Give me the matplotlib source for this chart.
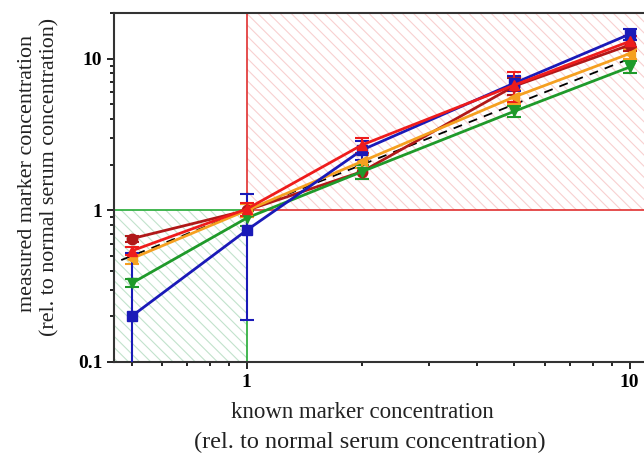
import matplotlib.pyplot as plt
from matplotlib.patches import Rectangle
from matplotlib.ticker import LogLocator, NullFormatter, FixedLocator, FixedFormatter

# --- data ---
known = [0.5, 1, 2, 5, 10]

blue_y = [0.2, 0.74, 2.5, 6.9, 14.5]
blue_err = [0.32, 0.55, 0.35, 0.8, 1.2]
red_y = [0.54, 1.02, 2.7, 6.7, 13.0]
red_err = [0.03, 0.1, 0.3, 1.5, 1.0]
darkred_y = [0.65, 1.0, 1.8, 6.6, 12.3]
darkred_err = [0.03, 0.1, 0.2, 0.8, 1.0]
green_y = [0.33, 0.89, 1.8, 4.5, 8.8]
green_err = [0.02, 0.1, 0.2, 0.4, 0.8]
orange_y = [0.48, 1.0, 2.1, 5.6, 10.8]
orange_err = [0.04, 0.1, 0.2, 0.6, 0.8]

ideal_x = [0.47, 10]

xlabel_lines = ['known marker concentration', '(rel. to normal serum concentration)']
ylabel_lines = ['measured marker concentration', '(rel. to normal serum concentration)']

plt.rcParams['hatch.linewidth'] = 0.8
serif = ['Liberation Serif', 'DejaVu Serif']

W, H = 644, 453
fig = plt.figure(figsize=(W / 100, H / 100), dpi=100)
ax = fig.add_axes([114 / W, 1 - 362 / H, (660 - 114) / W, 349 / H])
ax.set_xscale('log')
ax.set_yscale('log')
ax.set_xlim(0.45, 12)
ax.set_ylim(0.1, 20)

# --- shaded regions ---
ax.add_patch(Rectangle((0.45, 0.1), 1 - 0.45, 0.9, facecolor='none',
                       edgecolor='#c2e2cc', hatch='\\\\\\', linewidth=0, zorder=0))
ax.add_patch(Rectangle((1, 1), 11, 19, facecolor='none',
                       edgecolor='#f8d0d0', hatch='\\\\\\', linewidth=0, zorder=0))
ax.plot([0.45, 1], [1, 1], color='#22aa33', lw=1.2, zorder=1)
ax.plot([1, 1], [0.1, 1], color='#22aa33', lw=1.2, zorder=1)
ax.plot([1, 1], [1, 20], color='#e03030', lw=1.2, zorder=1)
ax.plot([1, 12], [1, 1], color='#e03030', lw=1.2, zorder=1)

# --- ideal line ---
ax.plot(ideal_x, ideal_x, color='black', ls=(0, (5, 4)), lw=1.3, zorder=3)

series = [
    (darkred_y, darkred_err, '#b01818', 'o'),
    (green_y, green_err, '#1f9a2a', 'v'),
    (orange_y, orange_err, '#f5a020', '<'),
    (blue_y, blue_err, '#1a1ab8', 's'),
    (red_y, red_err, '#ee1c1c', '^'),
]
for y, e, c, m in series:
    ax.errorbar(known, y, yerr=e, color=c, marker=m, ms=7.5, lw=2,
                capsize=5, capthick=1.5, elinewidth=1.5, zorder=4)

# --- axes styling ---
for s in ax.spines.values():
    s.set_linewidth(1.5)
    s.set_color('#333333')
ax.tick_params(which='both', direction='out', width=1.2)
ax.tick_params(which='major', length=5)
ax.tick_params(which='minor', length=3)
ax.xaxis.set_major_locator(FixedLocator([1, 10]))
ax.xaxis.set_major_formatter(FixedFormatter(['1', '10']))
ax.xaxis.set_minor_locator(LogLocator(base=10, subs=range(2, 10)))
ax.xaxis.set_minor_formatter(NullFormatter())
ax.yaxis.set_major_locator(FixedLocator([0.1, 1, 10]))
ax.yaxis.set_major_formatter(FixedFormatter(['0.1', '1', '10']))
ax.yaxis.set_minor_locator(LogLocator(base=10, subs=range(2, 10)))
ax.yaxis.set_minor_formatter(NullFormatter())
for lab in ax.get_xticklabels() + ax.get_yticklabels():
    lab.set_family(serif)
    lab.set_fontweight('bold')
    lab.set_fontsize(14)

# --- axis titles, one text per line ---
fig.text(362 / W, 1 - 412 / H, xlabel_lines[0], family=serif, fontsize=16.5,
         ha='center', va='center', color='#222222')
fig.text(370 / W, 1 - 442 / H, xlabel_lines[1], family=serif, fontsize=17.5,
         ha='center', va='center', color='#222222')
fig.text(28 / W, 1 - 173 / H, ylabel_lines[0], family=serif, fontsize=15.8,
         rotation=90, ha='center', va='center', color='#222222')
fig.text(50 / W, 1 - 177 / H, ylabel_lines[1], family=serif, fontsize=15.8,
         rotation=90, ha='center', va='center', color='#222222')

fig.savefig('out.png', dpi=100)
